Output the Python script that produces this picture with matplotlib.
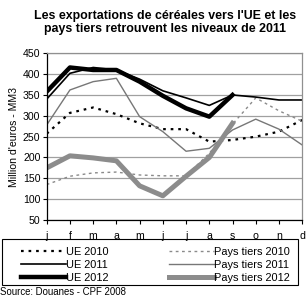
import matplotlib
matplotlib.use("Agg")
import matplotlib.pyplot as plt
from matplotlib.patches import Rectangle

plt.rcParams['font.family'] = ['Liberation Sans', 'DejaVu Sans']

months = ['j', 'f', 'm', 'a', 'm', 'j', 'j', 'a', 's', 'o', 'n', 'd']
ue_2010 = [257, 307, 320, 304, 282, 268, 268, 238, 242, 250, 262, 290]
ue_2011 = [340, 402, 416, 410, 388, 360, 343, 325, 350, 345, 338, 338]
ue_2012 = [358, 416, 410, 410, 382, 348, 318, 298, 350]
pt_2010 = [135, 155, 163, 165, 158, 156, 156, 210, 280, 343, 312, 287]
pt_2011 = [278, 362, 382, 390, 298, 262, 215, 222, 266, 292, 268, 230]
pt_2012 = [175, 204, 199, 192, 132, 108, 155, 200, 282]
yticks = [50, 100, 150, 200, 250, 300, 350, 400, 450]

fig = plt.figure(figsize=(3.06, 3.00), dpi=100)
ax = fig.add_axes([0.1526, 0.2667, 0.835, 0.5556])

x12 = list(range(len(months)))
h1, = ax.plot(x12, ue_2010, color='black', lw=1.6, linestyle=(0, (1.2, 2.2)), label='UE 2010')
h4, = ax.plot(range(len(pt_2010)), pt_2010, color='#8a8a8a', lw=1.0, linestyle=(0, (2.0, 2.5)), label='Pays tiers 2010')
h2, = ax.plot(x12, ue_2011, color='black', lw=1.2, label='UE 2011')
h5, = ax.plot(x12, pt_2011, color='#777777', lw=1.0, label='Pays tiers 2011')
h3, = ax.plot(range(len(ue_2012)), ue_2012, color='black', lw=3.2, label='UE 2012')
h6, = ax.plot(range(len(pt_2012)), pt_2012, color='#8c8c8c', lw=3.6, label='Pays tiers 2012')

ax.set_xlim(0, 11)
ax.set_ylim(50, 450)
ax.set_yticks(yticks)
ax.set_yticklabels([str(v) for v in yticks], fontsize=7.6)
ax.set_xticks(x12)
ax.set_xticklabels(months, fontsize=7.6)
ax.tick_params(axis='y', direction='out', length=3, width=0.8, pad=1.5)
ax.tick_params(axis='x', direction='out', length=3, width=0.8, pad=5)
ax.grid(axis='y', color='#a0a0a0', lw=0.9)
ax.set_axisbelow(True)
for s in ['top', 'right']:
    ax.spines[s].set_color('#909090')
    ax.spines[s].set_linewidth(0.9)
for s in ['left', 'bottom']:
    ax.spines[s].set_color('black')
    ax.spines[s].set_linewidth(0.9)

ax.set_ylabel("Million d'euros - MM3", fontsize=7.6, labelpad=3)

fig.text(0.54, 0.968, "Les exportations de céréales vers l'UE et les\npays tiers retrouvent les niveaux de 2011",
         ha='center', va='top', fontsize=8.9, fontweight='bold', linespacing=1.2)

common = dict(loc='upper left', fontsize=7.9, frameon=False, handlelength=4.1,
              handletextpad=0.0, borderpad=0.0, labelspacing=0.3, borderaxespad=0.0)
leg1 = fig.legend([h1, h2, h3], ['UE 2010', 'UE 2011', 'UE 2012'],
                  bbox_to_anchor=(0.070, 0.178), **common)
leg2 = fig.legend([h4, h5, h6], ['Pays tiers 2010', 'Pays tiers 2011', 'Pays tiers 2012'],
                  bbox_to_anchor=(0.553, 0.178), **common)
fig.add_artist(Rectangle((0.0065, 0.05), 0.967, 0.153, transform=fig.transFigure,
                         fill=False, edgecolor='black', lw=0.8))

fig.text(0.0, 0.027, "Source: Douanes - CPF 2008", fontsize=6.9, ha='left', va='center')

fig.savefig('out.png', dpi=100)
